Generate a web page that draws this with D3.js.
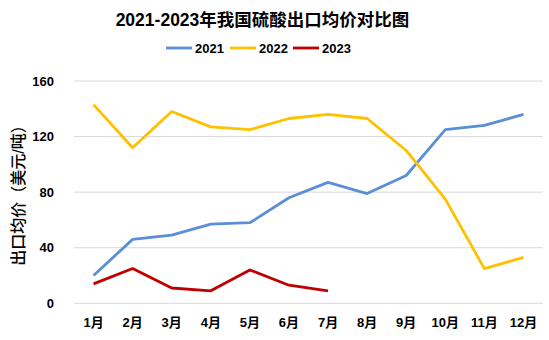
<!DOCTYPE html>
<html><head><meta charset="utf-8">
<script src="https://cdn.jsdelivr.net/npm/d3@7"></script>
<style>
body{margin:0;background:#fff;}
text{font-family:"Liberation Sans",Arial,"Noto Sans CJK SC",sans-serif;}
</style></head>
<body><svg id="c" width="549" height="340"></svg>
<script>
const months = ["1月","2月","3月","4月","5月","6月","7月","8月","9月","10月","11月","12月"];
const seriesNames = ["2021","2022","2023"];
const v2021 = [20,46,49,57,58,76,87,79,92,125,128,136];
const v2022 = [143,112,138,127,125,133,136,133,110,75,25,33];
const v2023 = [14,25,11,9,24,13,9];
const yTicks = [0,40,80,120,160];
const colors = ["#5B8FD5","#FFC000","#C00000"];
const title = "2021-2023年我国硫酸出口均价对比图";
const yTitle = "出口均价（美元/吨）";

const svg = d3.select("#c");
const x = d3.scaleBand().domain(months).range([74,543]);
const y = d3.scaleLinear().domain([0,160]).range([303.3,81]);

svg.append("g").selectAll("line").data(yTicks).join("line")
  .attr("x1",74).attr("x2",543).attr("y1",d=>y(d)).attr("y2",d=>y(d))
  .attr("stroke","#d9d9d9").attr("stroke-width",1);

const yAxis = d3.axisLeft(y).tickValues(yTicks).tickSize(0).tickPadding(0);
const gy = svg.append("g").attr("transform","translate(54,0)").call(yAxis);
gy.select(".domain").remove();
gy.selectAll("text").attr("font-size",13).attr("font-weight","bold").attr("fill","#000");

const xAxis = d3.axisBottom(x).tickSize(0).tickPadding(0);
const gx = svg.append("g").attr("transform","translate(0,318)").call(xAxis);
gx.select(".domain").remove();
gx.selectAll("text").attr("font-size",13).attr("font-weight","bold").attr("fill","#000");

const line = d3.line().x((d,i)=>x(months[i])+x.bandwidth()/2).y(d=>y(d));
[v2021,v2022,v2023].forEach((vals,k)=>{
  svg.append("path").datum(vals).attr("d",line).attr("fill","none")
    .attr("stroke",colors[k]).attr("stroke-width",2.8).attr("stroke-linejoin","round");
});

svg.append("text").attr("x",262.5).attr("y",26).attr("text-anchor","middle")
  .attr("font-size",17.5).attr("font-weight","bold").text(title);

const legX = [166,230,293];
seriesNames.forEach((n,k)=>{
  svg.append("line").attr("x1",legX[k]).attr("x2",legX[k]+26).attr("y1",48).attr("y2",48)
    .attr("stroke",colors[k]).attr("stroke-width",2.8);
  svg.append("text").attr("x",legX[k]+29).attr("y",52.5).attr("font-size",13)
    .attr("font-weight","bold").text(n);
});

svg.append("text").attr("transform","translate(23.5,191.5) rotate(-90)").attr("text-anchor","middle")
  .attr("font-size",16).attr("font-weight",500).text(yTitle);
</script></body></html>
